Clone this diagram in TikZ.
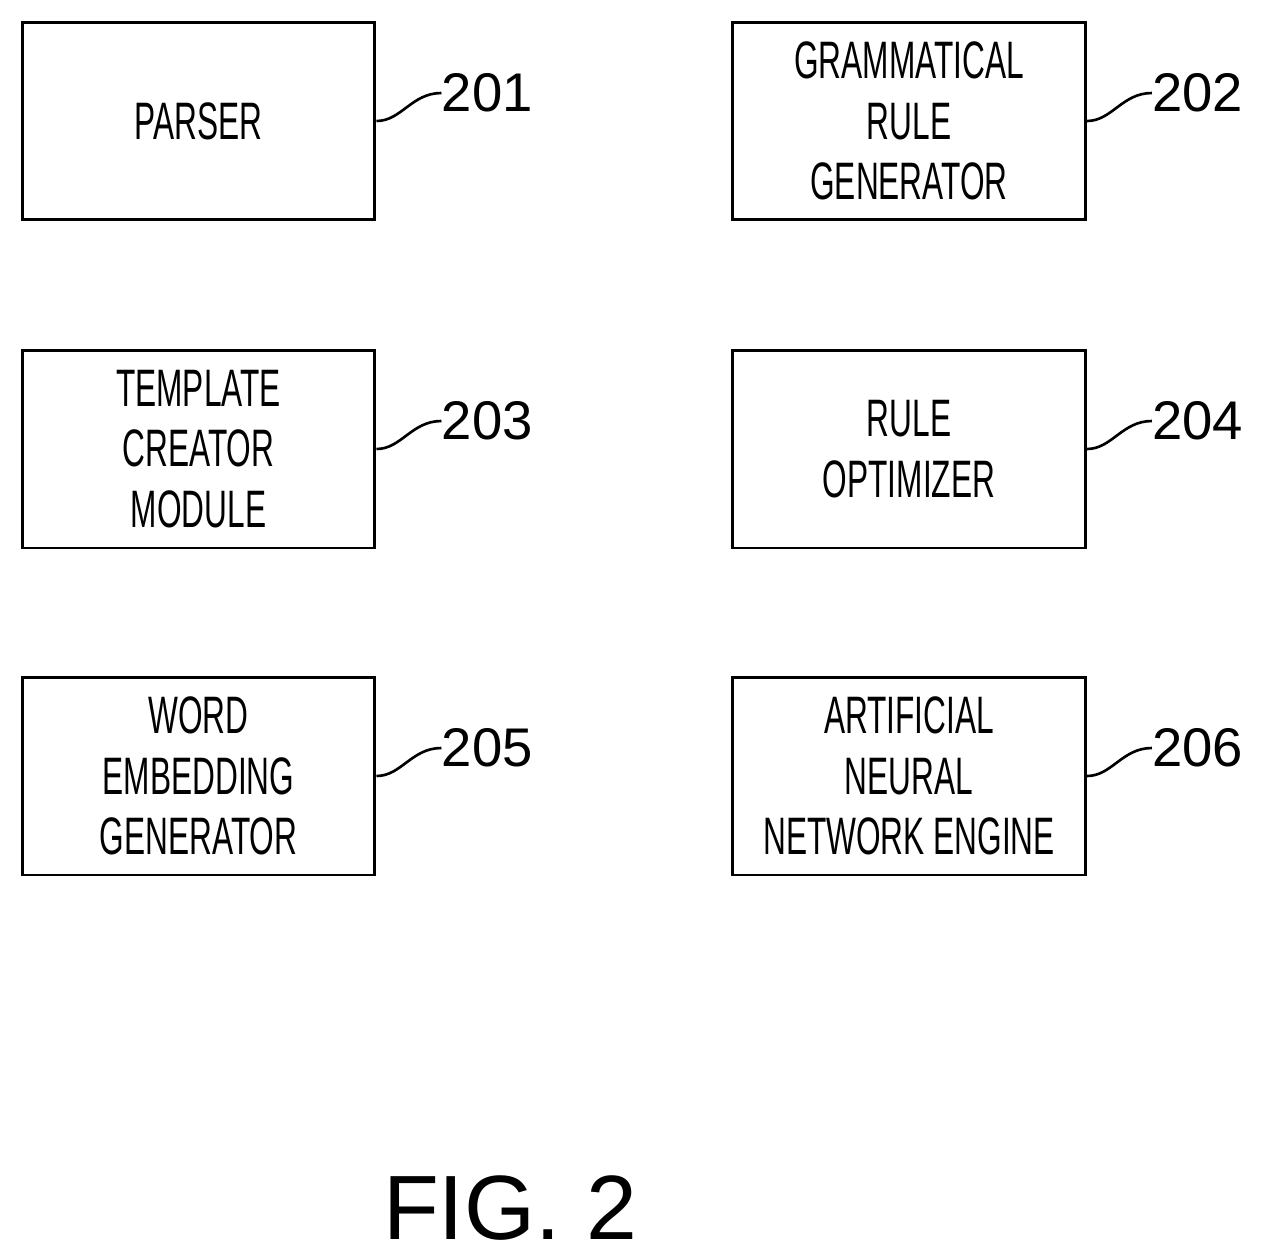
\documentclass[tikz,border=0pt]{standalone}
\usepackage{fontspec}
\setmainfont{Liberation Sans}
\usetikzlibrary{positioning,calc}
\begin{document}
\begin{tikzpicture}[x=0.02cm,y=-0.02cm,
  block/.style={draw,line width=1.7pt,minimum width=7.06cm,minimum height=3.96cm,inner sep=0pt},
  btext/.style={xscale=0.6,align=center,font=\fontsize{30}{34.6}\selectfont},
  refnum/.style={anchor=west,inner sep=0pt,font=\fontsize{31}{31}\selectfont},
  lead/.style={line width=1.5pt}]
\useasboundingbox (0,0) rectangle (1275,1259);

% blocks
\node[block] (parser) at (198.5,121) {};
\node[btext] at (parser) {PARSER};
\node[block] (grammar) at (909,121) {};
\node[btext] at (grammar) {GRAMMATICAL\\RULE\\GENERATOR};
\node[block] (template) at (198.5,449) {};
\node[btext] at (template) {TEMPLATE\\CREATOR\\MODULE};
\node[block] (optim) at (909,449) {};
\node[btext] at (optim) {RULE\\OPTIMIZER};
\node[block] (embed) at (198.5,776) {};
\node[btext] at (embed) {WORD\\EMBEDDING\\GENERATOR};
\node[block] (ann) at (909,776) {};
\node[btext] at (ann) {ARTIFICIAL\\NEURAL\\NETWORK ENGINE};

% reference numerals
\foreach \b/\n in {parser/201,grammar/202,template/203,optim/204,embed/205,ann/206}{
  \coordinate (c\n) at ($(\b.east)+(65,-28)$);
  \node[refnum] (r\n) at (c\n) {\n};
  \draw[lead] (\b.east) .. controls +(25,0) and +(-30,0) .. (c\n);
}

\node[font=\fontsize{52}{52}\selectfont] (fig) at (510,1208) {FIG. 2};
\end{tikzpicture}
\end{document}
